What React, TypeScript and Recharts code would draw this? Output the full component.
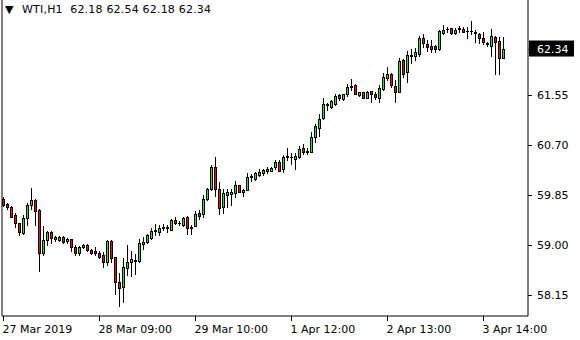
import { Bar, ComposedChart, ReferenceLine, XAxis, YAxis } from "recharts";

const symbol = "WTI,H1";

const opens = [
  59.78, 59.70, 59.65, 59.51, 59.37, 59.20, 59.46, 59.68, 59.77, 59.60,
  58.86, 59.08, 59.22, 59.10, 59.09, 59.14, 59.07, 59.10, 58.97, 58.86,
  58.97, 59.00, 58.92, 58.90, 58.86, 58.83, 58.71, 59.07, 58.80, 58.37,
  58.29, 58.61, 58.71, 58.73, 58.73, 59.02, 59.05, 59.12, 59.24, 59.22,
  59.29, 59.29, 59.26, 59.43, 59.37, 59.34, 59.48, 59.29, 59.32, 59.54,
  59.53, 59.78, 59.95, 60.33, 59.95, 59.65, 59.85, 59.87, 59.88, 60.02,
  59.90, 59.94, 60.16, 60.12, 60.19, 60.22, 60.26, 60.26, 60.33, 60.41,
  60.29, 60.50, 60.49, 60.46, 60.50, 60.65, 60.58, 60.58, 60.84, 60.99,
  61.16, 61.38, 61.35, 61.40, 61.55, 61.48, 61.57, 61.69, 61.72, 61.55,
  61.60, 61.50, 61.62, 61.57, 61.50, 61.65, 61.84, 61.91, 61.70, 61.60,
  62.15, 61.94, 62.21, 62.21, 62.25, 62.52, 62.42, 62.38, 62.38, 62.33,
  62.60, 62.67, 62.69, 62.60, 62.69, 62.67, 62.64, 62.63, 62.62, 62.59,
  62.52, 62.43, 62.38, 62.54, 62.47, 62.18,
];

const highs = [
  59.82, 59.71, 59.66, 59.54, 59.38, 59.51, 59.71, 59.97, 59.78, 59.61,
  59.32, 59.23, 59.24, 59.15, 59.15, 59.15, 59.12, 59.11, 59.00, 58.98,
  59.02, 59.02, 58.93, 58.97, 58.90, 58.88, 59.08, 59.08, 58.80, 58.52,
  58.78, 59.00, 58.90, 58.85, 59.10, 59.14, 59.19, 59.29, 59.36, 59.34,
  59.36, 59.34, 59.44, 59.48, 59.41, 59.47, 59.49, 59.34, 59.58, 59.60,
  59.85, 59.97, 60.36, 60.50, 60.07, 59.95, 59.95, 59.95, 60.09, 60.02,
  59.95, 60.23, 60.21, 60.24, 60.29, 60.29, 60.33, 60.33, 60.45, 60.45,
  60.53, 60.65, 60.56, 60.56, 60.68, 60.72, 60.65, 60.92, 61.06, 61.23,
  61.50, 61.41, 61.47, 61.57, 61.57, 61.57, 61.74, 61.82, 61.74, 61.60,
  61.60, 61.62, 61.62, 61.60, 61.72, 61.92, 62.03, 61.92, 61.80, 62.18,
  62.16, 62.30, 62.33, 62.35, 62.55, 62.59, 62.49, 62.49, 62.40, 62.65,
  62.74, 62.71, 62.69, 62.69, 62.72, 62.71, 62.71, 62.81, 62.65, 62.60,
  62.62, 62.45, 62.67, 62.55, 62.54, 62.54,
];

const lows = [
  59.66, 59.61, 59.47, 59.31, 59.17, 59.19, 59.34, 59.61, 59.34, 58.56,
  58.83, 59.00, 59.03, 59.07, 59.07, 59.03, 59.03, 58.90, 58.83, 58.83,
  58.95, 58.90, 58.85, 58.83, 58.78, 58.63, 58.66, 58.71, 58.17, 57.96,
  58.03, 58.49, 58.47, 58.51, 58.71, 58.93, 59.03, 59.10, 59.17, 59.17,
  59.26, 59.22, 59.25, 59.36, 59.34, 59.32, 59.19, 59.19, 59.32, 59.44,
  59.48, 59.76, 59.94, 59.83, 59.53, 59.54, 59.65, 59.68, 59.82, 59.90,
  59.83, 59.93, 60.09, 60.11, 60.17, 60.19, 60.22, 60.25, 60.29, 60.25,
  60.24, 60.45, 60.38, 60.29, 60.48, 60.55, 60.55, 60.58, 60.75, 60.85,
  61.14, 61.30, 61.33, 61.38, 61.47, 61.47, 61.53, 61.64, 61.57, 61.53,
  61.50, 61.50, 61.43, 61.48, 61.43, 61.64, 61.81, 61.69, 61.43, 61.60,
  61.86, 61.77, 62.09, 62.15, 62.21, 62.37, 62.30, 62.28, 62.28, 62.32,
  62.59, 62.62, 62.59, 62.59, 62.62, 62.62, 62.52, 62.59, 62.45, 62.43,
  62.42, 62.38, 62.21, 61.91, 61.91, 62.18,
];

const closes = [
  59.68, 59.65, 59.48, 59.37, 59.22, 59.46, 59.68, 59.77, 59.58, 58.86,
  59.08, 59.22, 59.12, 59.14, 59.14, 59.05, 59.10, 58.97, 58.86, 58.97,
  59.00, 58.92, 58.86, 58.86, 58.80, 58.71, 59.07, 58.78, 58.37, 58.27,
  58.63, 58.71, 58.76, 58.75, 59.03, 59.05, 59.17, 59.24, 59.26, 59.29,
  59.31, 59.31, 59.43, 59.37, 59.38, 59.46, 59.29, 59.31, 59.53, 59.49,
  59.78, 59.95, 60.33, 59.95, 59.63, 59.88, 59.90, 59.90, 60.02, 59.90,
  59.94, 60.16, 60.18, 60.22, 60.24, 60.27, 60.29, 60.31, 60.41, 60.26,
  60.50, 60.51, 60.50, 60.51, 60.63, 60.58, 60.59, 60.84, 61.02, 61.14,
  61.40, 61.39, 61.45, 61.53, 61.50, 61.57, 61.69, 61.70, 61.57, 61.60,
  61.50, 61.60, 61.57, 61.52, 61.67, 61.86, 61.91, 61.72, 61.60, 62.13,
  61.91, 62.23, 62.23, 62.28, 62.52, 62.43, 62.37, 62.33, 62.33, 62.64,
  62.65, 62.68, 62.60, 62.65, 62.67, 62.62, 62.63, 62.64, 62.61, 62.52,
  62.45, 62.42, 62.55, 62.45, 62.18, 62.34,
];

const timeLabels = ["27 Mar 2019", "28 Mar 09:00", "29 Mar 10:00", "1 Apr 12:00", "2 Apr 13:00", "3 Apr 14:00"];
const timeLabelBars = [0, 24, 48, 72, 96, 120];
const priceTicks = [58.15, 59.0, 59.85, 60.7, 61.55];

const data = opens.map((open, i) => ({
  i,
  open,
  high: highs[i],
  low: lows[i],
  close: closes[i],
}));

const last = data[data.length - 1];
const fmt = (v: number) => v.toFixed(2);

const UP = "#3ad83a";
const DOWN = "#e01414";
const FONT = "'DejaVu Sans', sans-serif";

const X_MIN = -0.375;
const X_MAX = 131.125;

function Candle(props: any) {
  const { x, y, width, height, payload } = props;
  if (x == null || y == null) return null;
  const { open, high, low, close } = payload;
  const cx = Math.floor(x + width / 2) + 0.5;
  const range = high - low;
  const toY = (v: number) => (range === 0 ? y : y + ((high - v) / range) * height);
  const top = Math.round(toY(Math.max(open, close)));
  const bottom = Math.round(toY(Math.min(open, close)));
  const bodyH = Math.max(1, bottom - top + 1);
  const up = close >= open;
  return (
    <g shapeRendering="crispEdges">
      <line x1={cx} x2={cx} y1={Math.round(y)} y2={Math.round(y + height) + 1} stroke="#000" strokeWidth={1} />
      <rect x={cx - 1.5} y={top} width={3} height={bodyH} fill="#000" />
      {bodyH > 2 && <rect x={cx - 0.5} y={top + 1} width={1} height={bodyH - 2} fill={up ? UP : DOWN} />}
    </g>
  );
}

function PriceTick(props: any) {
  const { x, y, payload } = props;
  const v = payload.value;
  const isLast = Math.abs(v - last.close) < 1e-9;
  return (
    <g>
      <line x1={x} x2={x + 4} y1={Math.round(y) + 0.5} y2={Math.round(y) + 0.5} stroke="#000" />
      {isLast && <rect x={x + 1} y={y - 8} width={45} height={16} fill="#000" />}
      <text x={x + 9} y={y + 4} fontSize={11} fontFamily={FONT} fill={isLast ? "#fff" : "#000"}>
        {fmt(v)}
      </text>
    </g>
  );
}

function TimeTick(props: any) {
  const { x, y, payload } = props;
  const k = timeLabelBars.indexOf(payload.value);
  const px = Math.floor(x) + 0.5;
  return (
    <g>
      <line x1={px} x2={px} y1={y} y2={y + 5} stroke="#000" />
      <text x={px - 1} y={y + 17} fontSize={11} fontFamily={FONT} fill="#000">
        {timeLabels[k]}
      </text>
    </g>
  );
}

export default function App() {
  return (
    <div style={{ position: "absolute", left: 0, top: 0, width: 580, height: 340, background: "#fff" }}>
      <ComposedChart width={580} height={340} data={data} margin={{ top: 0, right: 0, bottom: 0, left: 2 }}>
        <XAxis
          dataKey="i"
          type="number"
          domain={[X_MIN, X_MAX]}
          allowDataOverflow
          ticks={timeLabelBars}
          interval={0}
          height={24}
          tickSize={0}
          tickMargin={0}
          tick={<TimeTick />}
          axisLine={{ stroke: "#000" }}
        />
        <YAxis
          orientation="right"
          type="number"
          domain={[57.793, 63.165]}
          allowDataOverflow
          ticks={[...priceTicks, last.close]}
          interval={0}
          width={52}
          tickSize={0}
          tickMargin={0}
          tick={<PriceTick />}
          axisLine={{ stroke: "#000" }}
        />
        <ReferenceLine x={X_MIN} stroke="#000" ifOverflow="extendDomain" />
        <Bar
          dataKey={(d: any) => [d.low, d.high]}
          barSize={4}
          shape={<Candle />}
          isAnimationActive={false}
        />
      </ComposedChart>
      <div style={{ position: "absolute", left: 5, top: 3, fontFamily: FONT, fontSize: 11, color: "#000" }}>▼</div>
      <div
        style={{
          position: "absolute",
          left: 22,
          top: 3,
          fontFamily: FONT,
          fontSize: 11,
          letterSpacing: 0.2,
          color: "#000",
          whiteSpace: "pre",
        }}
      >
        {symbol + "  " + [last.open, last.high, last.low, last.close].map(fmt).join(" ")}
      </div>
    </div>
  );
}
